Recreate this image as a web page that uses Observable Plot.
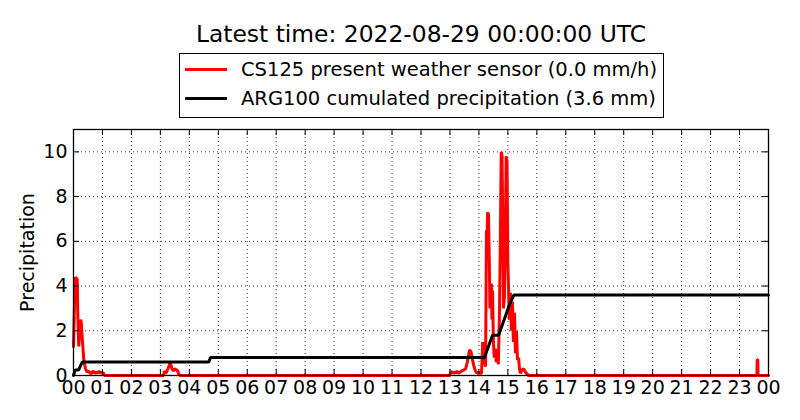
<!DOCTYPE html>
<html>
<head>
<meta charset="utf-8">
<script src="https://cdn.jsdelivr.net/npm/d3@7"></script>
<script src="https://cdn.jsdelivr.net/npm/@observablehq/plot@0.6"></script>
<style>
  html, body { margin: 0; padding: 0; background: #fff; }
  body { width: 800px; height: 420px; overflow: hidden; font-family: "DejaVu Sans", sans-serif; color: #000; }
  #header { position: relative; width: 800px; height: 120px; }
  #title { position: absolute; left: 21px; width: 800px; top: 22.6px; font-size: 23.4px; line-height: 23.4px; text-align: center; white-space: nowrap; }
  #legend { position: absolute; left: 179px; top: 53px; width: 485px; height: 65px; box-sizing: border-box; border: 1px solid #000; background: #fff; }
  .sw { position: absolute; left: 5px; width: 42px; height: 3px; }
  .lt { position: absolute; left: 61px; font-size: 19.5px; line-height: 19.5px; white-space: nowrap; }
</style>
</head>
<body>
<div id="header">
  <div id="title"></div>
  <div id="legend"></div>
</div>
<div id="chart"></div>
<script>
// ---- data ----
const titleText = "Latest time: 2022-08-29 00:00:00 UTC";
const seriesNames = ["CS125 present weather sensor (0.0 mm/h)", "ARG100 cumulated precipitation (3.6 mm)"];
const seriesColors = ["#ff0000", "#000000"];
const yLabel = "Precipitation";

// x tick positions (hours since 2022-08-28 00:00 UTC) and their labels
const hourTicks = [0,1,2,3,4,5,6,7,8,9,10,11,12,13,14,15,16,17,18,19,20,21,22,23,24];
const xTickLabels = ["00","01","02","03","04","05","06","07","08","09","10","11","12","13","14","15","16","17","18","19","20","21","22","23","00"];
const yTicks = [0,2,4,6,8,10];

// CS125 rain rate [hour, mm/h]
const cs125 = [
  [0.00,1.3],[0.035,3.2],[0.069,4.4],[0.10,4.35],[0.128,4.3],[0.148,2.7],[0.183,1.3],[0.218,2.0],
  [0.245,2.5],[0.266,2.4],[0.30,1.7],[0.356,0.7],[0.414,0.3],[0.47,0.15],[0.52,0.2],[0.57,0.1],
  [0.62,0.1],[0.68,0.2],[0.73,0.1],[0.78,0.15],[0.83,0.1],[0.88,0.2],[0.93,0.1],[0.98,0.15],
  [1.04,0.1],[1.07,0],
  [3.11,0],[3.14,0.2],[3.18,0.1],[3.21,0.15],[3.28,0.35],[3.33,0.55],[3.36,0.5],[3.40,0.3],
  [3.45,0.2],[3.50,0.3],[3.55,0.25],[3.60,0.2],[3.64,0.05],[3.69,0],
  [12.99,0],[13.04,0.2],[13.09,0.1],[13.14,0.15],[13.19,0.1],[13.24,0.2],[13.29,0.1],[13.35,0.15],
  [13.40,0.2],[13.48,0.25],[13.54,0.3],[13.60,0.6],[13.64,0.9],[13.68,1.15],[13.73,1.05],[13.78,0.7],
  [13.83,0.4],[13.88,0.2],[13.93,0.1],[13.98,0.15],[14.04,0.1],[14.09,0.1],
  [14.13,1.5],[14.15,0.9],[14.17,1.0],[14.19,1.5],[14.21,0.5],[14.23,0.4],[14.26,6.5],[14.28,6.0],
  [14.30,7.3],[14.33,7.2],[14.36,5.0],[14.38,3.0],[14.40,4.0],[14.43,4.1],[14.45,2.5],[14.47,3.8],
  [14.50,1.5],[14.53,0.8],[14.57,1.2],[14.60,0.6],[14.64,0.9],[14.67,0.5],[14.71,2.8],[14.74,6.0],
  [14.77,10.0],[14.80,9.8],[14.83,6.0],[14.85,3.0],[14.88,3.5],[14.92,7.0],[14.94,9.8],[14.97,9.6],
  [15.00,5.0],[15.03,3.5],[15.05,2.5],[15.09,3.7],[15.12,2.0],[15.16,3.3],[15.19,1.5],[15.23,2.8],
  [15.26,1.0],[15.30,2.0],[15.33,0.7],[15.37,0.8],[15.40,0.3],[15.43,0.1],[15.49,0.25],[15.54,0.3],
  [15.61,0.15],[15.68,0.05],[15.71,0],
  [23.60,0],[23.61,0.7],[23.63,0.7],[23.64,0],[24,0]
];

// ARG100 cumulated precipitation [hour, mm]
const arg100 = [
  [0,0],[0.06,0.25],[0.18,0.25],[0.30,0.6],[4.67,0.6],[4.73,0.8],[14.19,0.8],[14.47,1.8],
  [14.68,1.8],[15.08,3.25],[15.21,3.6],[24,3.6]
];

// ---- header: title + legend ----
document.getElementById("title").textContent = titleText;
const legend = document.getElementById("legend");
seriesNames.forEach((name, i) => {
  const sw = document.createElement("div");
  sw.className = "sw";
  sw.style.top = (i === 0 ? 13.5 : 42.5) + "px";
  sw.style.background = seriesColors[i];
  legend.appendChild(sw);
  const t = document.createElement("div");
  t.className = "lt";
  t.style.top = (i === 0 ? 6.2 : 35.2) + "px";
  t.textContent = name;
  legend.appendChild(t);
});

// ---- chart ----
const W = 800, H = 300, mL = 73, mR = 32, mT = 9, mB = 45;
const frameW = W - mL - mR, frameH = H - mT - mB, tickLen = 6;
const gridStyle = {stroke: "#000", strokeOpacity: 1, strokeWidth: 0.8, strokeDasharray: "1,3"};

const chart = Plot.plot({
  width: W, height: H,
  marginLeft: mL, marginRight: mR, marginTop: mT, marginBottom: mB,
  style: {fontFamily: "DejaVu Sans", fontSize: "19px", color: "#000", background: "#fff", overflow: "visible"},
  x: {domain: [0, 24], ticks: hourTicks},
  y: {domain: [0, 11], ticks: yTicks},
  marks: [
    Plot.gridX(hourTicks, gridStyle),
    Plot.gridY(yTicks, gridStyle),
    Plot.line(cs125, {x: d => d[0], y: d => d[1], stroke: seriesColors[0], strokeWidth: 3, strokeLinejoin: "miter"}),
    Plot.line(arg100, {x: d => d[0], y: d => d[1], stroke: seriesColors[1], strokeWidth: 3, strokeLinejoin: "miter"}),
    // inward ticks on all four sides
    Plot.ruleX(hourTicks, {stroke: "#000", strokeWidth: 1, insetTop: frameH - tickLen}),
    Plot.ruleX(hourTicks, {stroke: "#000", strokeWidth: 1, insetBottom: frameH - tickLen}),
    Plot.ruleY(yTicks, {stroke: "#000", strokeWidth: 1, insetRight: frameW - tickLen}),
    Plot.ruleY(yTicks, {stroke: "#000", strokeWidth: 1, insetLeft: frameW - tickLen}),
    Plot.frame({stroke: "#000", strokeWidth: 1.3}),
    Plot.axisX(hourTicks, {tickSize: 0, tickPadding: 5, tickFormat: d => xTickLabels[d], label: null, fontSize: 19}),
    Plot.axisY(yTicks, {tickSize: 0, tickPadding: 6, label: null, fontSize: 19}),
    Plot.text([yLabel], {text: d => d, frameAnchor: "left", textAnchor: "middle", lineAnchor: "middle", rotate: -90, dx: -46, fontSize: 19})
  ]
});
document.getElementById("chart").appendChild(chart);
</script>
</body>
</html>
